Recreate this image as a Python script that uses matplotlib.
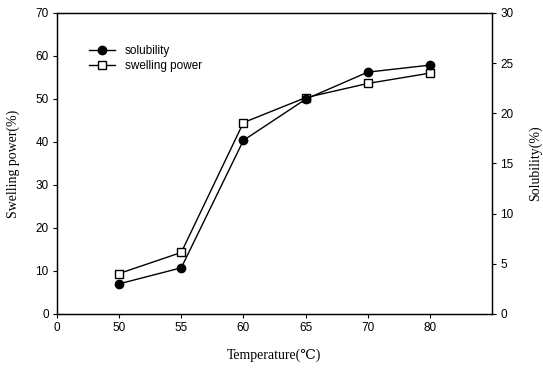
import matplotlib
matplotlib.use('Agg')
import matplotlib.pyplot as plt

# data
temp_labels = ['0', '50', '55', '60', '65', '70', '80']
temps = ['50', '55', '60', '65', '70', '80']
swelling = [9.4, 14.3, 44.5, 50.3, 53.6, 56.0]
solubility = [3.0, 4.6, 17.3, 21.4, 24.1, 24.8]

sans = ['Liberation Sans', 'DejaVu Sans']
serif = ['Liberation Serif', 'DejaVu Serif']

fig = plt.figure(figsize=(5.43, 3.81), dpi=100)
ax1 = fig.add_axes([0.105, 0.176, 0.801, 0.790])
ax2 = ax1.twinx()

xpos = [temp_labels.index(t) for t in temps]

l2, = ax2.plot(xpos, solubility, '-', color='black', lw=1.0, marker='o',
               ms=6, mfc='black', mec='black', label='solubility', zorder=3)
l1, = ax1.plot(xpos, swelling, '-', color='black', lw=1.0, marker='s',
               ms=6, mfc='white', mec='black', mew=1.0, label='swelling power')

ax1.set_xlim(0, 7)
ax1.set_ylim(0, 70)
ax2.set_ylim(0, 30)
ax1.set_xticks(range(len(temp_labels)))
ax1.set_xticklabels(temp_labels, fontfamily=sans, fontsize=8.5)
ax1.set_yticks(range(0, 71, 10))
ax2.set_yticks(range(0, 31, 5))
for lab in ax1.get_yticklabels() + ax2.get_yticklabels():
    lab.set_fontfamily(sans)
    lab.set_fontsize(8.5)

ax1.tick_params(direction='out', length=3, width=0.8, pad=3)
ax2.tick_params(direction='out', length=3, width=0.8, pad=3)

ax1.set_xlabel('Temperature(℃)', fontfamily=serif, fontsize=10, labelpad=10)
ax1.set_ylabel('Swelling power(%)', fontfamily=serif, fontsize=10, labelpad=11)
ax2.set_ylabel('Solubility(%)', fontfamily=serif, fontsize=10, labelpad=11)

for ax in (ax1, ax2):
    for sp in ax.spines.values():
        sp.set_linewidth(0.9)

ax1.legend([l2, l1], ['solubility', 'swelling power'], loc='upper left',
           bbox_to_anchor=(0.05, 0.93), frameon=False, handlelength=2.2,
           prop={'family': sans, 'size': 8.5}, labelspacing=0.3)

fig.savefig('out.png', dpi=100)
